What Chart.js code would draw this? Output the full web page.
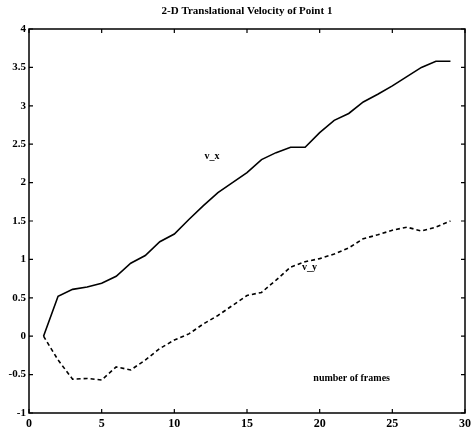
<!DOCTYPE html>
<html lang="en">
  <head>
    <meta charset="UTF-8" />
    <title>2-D Translational Velocity of Point 1</title>
    <script src="https://cdn.jsdelivr.net/npm/chart.js"></script>
    <style>
      html, body { margin: 0; padding: 0; background: #fff; }
      #wrap { width: 471px; height: 437px; }
    </style>
  </head>
  <body>
    <div id="wrap"><canvas id="velChart" width="471" height="437"></canvas></div>
    <script>
      // frame numbers and velocities
      const frames = [1, 2, 3, 4, 5, 6, 7, 8, 9, 10, 11, 12, 13, 14, 15, 16, 17, 18, 19, 20, 21, 22, 23, 24, 25, 26, 27, 28, 29];
      const vx = [0, 0.52, 0.61, 0.64, 0.69, 0.78, 0.95, 1.05, 1.23, 1.33, 1.52, 1.7, 1.87, 2.0, 2.13, 2.3, 2.39, 2.46, 2.46, 2.65, 2.81, 2.9, 3.05, 3.15, 3.26, 3.38, 3.5, 3.58, 3.58];
      const vy = [0, -0.31, -0.56, -0.55, -0.57, -0.4, -0.44, -0.31, -0.16, -0.05, 0.03, 0.16, 0.27, 0.4, 0.53, 0.57, 0.73, 0.9, 0.97, 1.01, 1.07, 1.15, 1.27, 1.32, 1.38, 1.42, 1.37, 1.42, 1.5];
      const xTicks = [0, 5, 10, 15, 20, 25, 30];
      const yTicks = [-1, -0.5, 0, 0.5, 1, 1.5, 2, 2.5, 3, 3.5, 4];
      const notes = [
        { text: "v_x", x: 12.6, y: 2.34 },
        { text: "v_y", x: 19.3, y: 0.89 },
        { text: "number of frames", x: 22.2, y: -0.55 },
      ];
      const titleText = "2-D Translational Velocity of Point 1";

      const FONT = "'Liberation Serif', 'DejaVu Serif', serif";

      const toPts = (ys) => frames.map((f, i) => ({ x: f, y: ys[i] }));

      // box, inward ticks, title and text labels
      const decor = {
        id: "decor",
        afterDraw(chart) {
          const ctx = chart.ctx;
          const a = chart.chartArea;
          const xs = chart.scales.x;
          const ys = chart.scales.y;
          ctx.save();
          ctx.strokeStyle = "#000";
          ctx.lineWidth = 1.5;
          ctx.strokeRect(a.left, a.top, a.right - a.left, a.bottom - a.top);
          ctx.lineWidth = 1.2;
          ctx.beginPath();
          xTicks.forEach((t) => {
            const px = xs.getPixelForValue(t);
            ctx.moveTo(px, a.bottom);
            ctx.lineTo(px, a.bottom - 4);
            ctx.moveTo(px, a.top);
            ctx.lineTo(px, a.top + 4);
          });
          yTicks.forEach((t) => {
            const py = ys.getPixelForValue(t);
            ctx.moveTo(a.left, py);
            ctx.lineTo(a.left + 4, py);
            ctx.moveTo(a.right, py);
            ctx.lineTo(a.right - 4, py);
          });
          ctx.stroke();

          ctx.fillStyle = "#000";
          ctx.textAlign = "center";
          ctx.textBaseline = "middle";
          ctx.font = "bold 11px " + FONT;
          ctx.fillText(titleText, (a.left + a.right) / 2, 11);
          ctx.font = "bold 10px " + FONT;
          notes.forEach((n) => {
            ctx.fillText(n.text, xs.getPixelForValue(n.x), ys.getPixelForValue(n.y));
          });
          ctx.restore();
        },
      };

      new Chart(document.getElementById("velChart"), {
        type: "line",
        data: {
          datasets: [
            {
              label: "v_x",
              data: toPts(vx),
              borderColor: "#000",
              borderWidth: 1.6,
              pointRadius: 0,
              tension: 0,
              fill: false,
            },
            {
              label: "v_y",
              data: toPts(vy),
              borderColor: "#000",
              borderWidth: 1.6,
              borderDash: [4, 3],
              pointRadius: 0,
              tension: 0,
              fill: false,
            },
          ],
        },
        options: {
          responsive: false,
          animation: false,
          layout: { padding: { top: 29, right: 6, left: 0, bottom: 0 } },
          plugins: {
            legend: { display: false },
            tooltip: { enabled: false },
          },
          scales: {
            x: {
              type: "linear",
              min: 0,
              max: 30,
              afterBuildTicks: (s) => { s.ticks = xTicks.map((v) => ({ value: v })); },
              afterFit: (s) => { s.height = 24; s.paddingRight = 0; s.paddingLeft = 0; },
              grid: { display: false, drawTicks: false },
              border: { display: false },
              ticks: {
                color: "#000",
                padding: 4,
                maxRotation: 0,
                callback: (v) => String(v),
                font: { family: FONT, size: 12, weight: "bold" },
              },
            },
            y: {
              type: "linear",
              min: -1,
              max: 4,
              afterBuildTicks: (s) => { s.ticks = yTicks.map((v) => ({ value: v })); },
              afterFit: (s) => { s.width = 29; s.paddingTop = 0; s.paddingBottom = 0; },
              grid: { display: false, drawTicks: false },
              border: { display: false },
              ticks: {
                color: "#000",
                padding: 3,
                callback: (v) => String(v),
                font: { family: FONT, size: 11, weight: "bold" },
              },
            },
          },
        },
        plugins: [decor],
      });
    </script>
  </body>
</html>
